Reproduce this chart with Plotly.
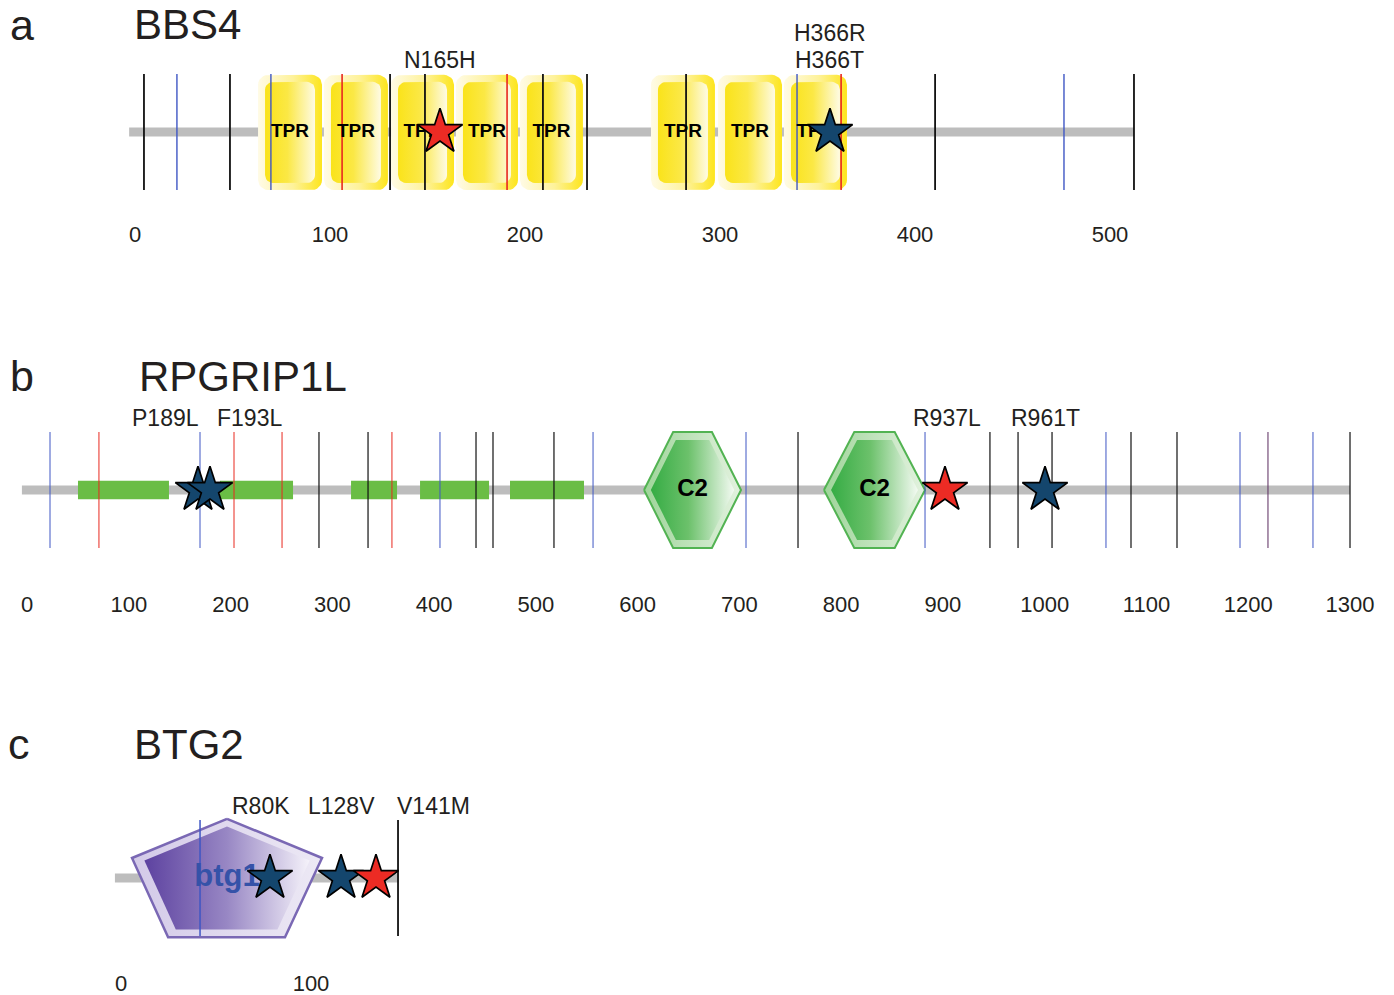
import numpy as np
import plotly.graph_objects as go

W, H = 1394, 995
INK = "#231f20"
FONT = "Liberation Sans, Arial, sans-serif"
STAR_FILL = {"red": "#ec2b24", "blue": "#14466d"}
CUT_COLOR = {"black": "#111111", "blue": "#3f56c4", "red": "#e8281f", "purple": "#5a2a5e"}

# ---------------- BBS4 ----------------
bbs4_span = [-3, 512.3]
bbs4_tpr_start = [63.1, 96.9, 131.3, 164.6, 197.4, 264.6, 299.0, 332.8]
bbs4_tpr_end = [95.9, 129.7, 163.6, 196.4, 229.7, 297.4, 331.8, 365.1]
bbs4_cut_black = [4.6, 48.7, 130.8, 148.7, 209.2, 231.8, 282.6, 410.3, 512.3]
bbs4_cut_blue = [21.5, 69.7, 339.5, 476.4]
bbs4_cut_red = [106.2, 190.8, 362.1]
bbs4_var_pos = [156.4, 356.4]
bbs4_var_class = ["red", "blue"]
bbs4_var_name = ["N165H", "H366R<br>H366T"]
bbs4_ticks = [0, 100, 200, 300, 400, 500]

# ---------------- RPGRIP1L ----------------
rpg_span = [-5, 1300]
rpg_coil_start = [50.1, 189.6, 318.4, 386.2, 474.6]
rpg_coil_end = [139.5, 261.4, 363.6, 454.0, 547.3]
rpg_c2_start = [606.3, 783.1]
rpg_c2_end = [701.6, 882.4]
rpg_cut_black = [286.9, 335.1, 441.2, 457.9, 517.8, 757.6, 946.2, 973.8, 1007.2, 1084.8, 1130.0, 1300.0]
rpg_cut_blue = [22.6, 170.0, 405.8, 556.2, 706.5, 882.4, 1060.2, 1191.9, 1263.6]
rpg_cut_red = [70.7, 203.4, 250.6, 358.6]
rpg_cut_purple = [1219.4]
rpg_var_pos = [168.0, 179.8, 902.0, 1000.3]
rpg_var_class = ["blue", "blue", "red", "blue"]
rpg_var_name = ["P189L", "F193L", "R937L", "R961T"]
rpg_ticks = [0, 100, 200, 300, 400, 500, 600, 700, 800, 900, 1000, 1100, 1200, 1300]

# ---------------- BTG2 ----------------
btg_span = [-3.2, 145.8]
btg_dom_start = [5.8]
btg_dom_end = [105.8]
btg_cut_black = [145.8]
btg_cut_blue = [41.6]
btg_var_pos = [78.4, 115.8, 134.2]
btg_var_class = ["blue", "blue", "red"]
btg_var_name = ["R80K", "L128V", "V141M"]
btg_ticks = [0, 100]

# ---------------- panel geometry (pixels) ----------------
KY = 58.0  # pixels per track unit
PANELS = [
    # axis suffix, x px of residue 0, px per residue, top px, bottom px, track centre px
    dict(ax="", px0=135, kx=1.95, top=0, bottom=219, mid=132),
    dict(ax="2", px0=27, kx=1.0177, top=300, bottom=589, mid=490),
    dict(ax="3", px0=121, kx=1.90, top=680, bottom=968, mid=878),
]

fig = go.Figure()


def xy(p):
    return dict(xaxis="x" + p["ax"], yaxis="y" + p["ax"])


def backbone(p, span):
    fig.add_trace(go.Scatter(x=span, y=[0, 0], mode="lines", line=dict(color="#bdbdbd", width=9),
                             hoverinfo="skip", showlegend=False, **xy(p)))


def cuts(p, xs, color, width):
    xx, yy = [], []
    for x in xs:
        xx += [x, x, None]
        yy += [-1.0, 1.0, None]
    fig.add_trace(go.Scatter(x=xx, y=yy, mode="lines", line=dict(color=CUT_COLOR[color], width=width),
                             hoverinfo="skip", showlegend=False, **xy(p)))


def polygon(p, xs, ys, scale, line_color, line_width):
    fig.add_trace(go.Scatter(x=xs, y=ys, mode="lines", fill="toself",
                             fillgradient=dict(type="horizontal", colorscale=scale),
                             line=dict(color=line_color, width=line_width),
                             hoverinfo="skip", showlegend=False, **xy(p)))


def rounded_box(x0, x1, y0, y1, rx, ry, n=7):
    xs, ys = [], []
    for cx, cy, a0, a1 in [(x1 - rx, y1 - ry, 0, 90), (x0 + rx, y1 - ry, 90, 180),
                           (x0 + rx, y0 + ry, 180, 270), (x1 - rx, y0 + ry, 270, 360)]:
        t = np.radians(np.linspace(a0, a1, n))
        xs += list(cx + rx * np.cos(t))
        ys += list(cy + ry * np.sin(t))
    return xs + [xs[0]], ys + [ys[0]]


def shrink(xs, ys, f):
    cx = (min(xs) + max(xs)) / 2
    cy = (min(ys) + max(ys)) / 2
    return [cx + f * (x - cx) for x in xs], [cy + f * (y - cy) for y in ys]


def domain_text(p, xs, texts, size, color, family):
    fig.add_trace(go.Scatter(x=xs, y=[0] * len(xs), mode="text", text=texts,
                             textposition="middle center",
                             textfont=dict(size=size, color=color, family=family, weight="bold"),
                             hoverinfo="skip", showlegend=False, **xy(p)))


def stars(p, xs, classes):
    fig.add_trace(go.Scatter(x=xs, y=[0] * len(xs), mode="markers",
                             marker=dict(symbol="star", size=34,
                                         color=[STAR_FILL[c] for c in classes],
                                         line=dict(color="#000000", width=1.7)),
                             hoverinfo="skip", showlegend=False, **xy(p)))


def variant_labels(p, xs, names, shifts):
    for x, name, dx in zip(xs, names, shifts):
        # stacked names sit 27 px apart, the last one just above the cut lines
        lines = name.split("<br>")
        for i, line in enumerate(reversed(lines)):
            fig.add_annotation(x=x, y=1.0, xref="x" + p["ax"], yref="y" + p["ax"], text=line,
                               showarrow=False, xanchor="center", yanchor="bottom",
                               xshift=dx, yshift=-1 + 27 * i,
                               font=dict(size=23, color=INK, family=FONT))


pa, pb, pc = PANELS

# ---- panel a: BBS4 ----
backbone(pa, bbs4_span)
rx_o, ry_o = 10 / pa["kx"], 10 / KY
inset_x, inset_y = 7 / pa["kx"], 7 / KY
for s, e in zip(bbs4_tpr_start, bbs4_tpr_end):
    ox, oy = rounded_box(s, e, -1.0, 0.985, rx_o, ry_o)
    polygon(pa, ox, oy, [[0, "#fffbe6"], [0.55, "#fef29a"], [1, "#fde51c"]], "rgba(0,0,0,0)", 0)
    ix, iy = rounded_box(s + inset_x, e - inset_x, -1.0 + inset_y, 0.985 - inset_y, rx_o * 0.8, ry_o * 0.8)
    polygon(pa, ix, iy, [[0, "#fae31a"], [0.45, "#fbe845"], [1, "#fefbe4"]], "rgba(0,0,0,0)", 0)
cuts(pa, bbs4_cut_black, "black", 1.8)
cuts(pa, bbs4_cut_blue, "blue", 1.4)
cuts(pa, bbs4_cut_red, "red", 1.6)
domain_text(pa, [(s + e) / 2 for s, e in zip(bbs4_tpr_start, bbs4_tpr_end)],
            ["TPR"] * len(bbs4_tpr_start), 19, "#000000", FONT)
stars(pa, bbs4_var_pos, bbs4_var_class)
variant_labels(pa, bbs4_var_pos, bbs4_var_name, [0, 0])

# ---- panel b: RPGRIP1L ----
backbone(pb, rpg_span)
for s, e in zip(rpg_coil_start, rpg_coil_end):
    fig.add_trace(go.Scatter(x=[s, e, e, s, s], y=[-0.16, -0.16, 0.16, 0.16, -0.16], mode="lines",
                             fill="toself", fillcolor="#6abd45", line=dict(width=0),
                             hoverinfo="skip", showlegend=False, **xy(pb)))
for s, e in zip(rpg_c2_start, rpg_c2_end):
    k = 0.3 * (e - s)
    hx = [s, s + k, e - k, e, e - k, s + k, s]
    hy = [0, 1.0, 1.0, 0, -1.0, -1.0, 0]
    polygon(pb, hx, hy, [[0, "#9fd59a"], [1, "#e3f2df"]], "#52b352", 2)
    ix, iy = shrink(hx, hy, 0.86)
    polygon(pb, ix, iy, [[0, "#35ac44"], [0.45, "#6cc16b"], [1, "#f3faf2"]], "rgba(0,0,0,0)", 0)
cuts(pb, rpg_cut_black, "black", 1.2)
cuts(pb, rpg_cut_blue, "blue", 1.0)
cuts(pb, rpg_cut_red, "red", 1.0)
cuts(pb, rpg_cut_purple, "purple", 1.0)
domain_text(pb, [(s + e) / 2 for s, e in zip(rpg_c2_start, rpg_c2_end)], ["C2", "C2"], 24, "#000000", FONT)
stars(pb, rpg_var_pos, rpg_var_class)
variant_labels(pb, rpg_var_pos, rpg_var_name, [-32, 40, 2, 0])

# ---- panel c: BTG2 ----
backbone(pc, btg_span)
for s, e in zip(btg_dom_start, btg_dom_end):
    w = e - s
    px_ = [s + 0.5 * w, s, s + 0.19 * w, s + 0.805 * w, e, s + 0.5 * w]
    py_ = [1.02, 0.345, -1.02, -1.02, 0.345, 1.02]
    polygon(pc, px_, py_, [[0, "#d3cae8"], [1, "#ede9f5"]], "#7a68b4", 2.5)
    ix, iy = shrink(px_, py_, 0.87)
    polygon(pc, ix, iy, [[0, "#5d42a0"], [0.5, "#9887c4"], [1, "#f5f2fa"]], "rgba(0,0,0,0)", 0)
cuts(pc, btg_cut_blue, "blue", 1.5)
cuts(pc, btg_cut_black, "black", 1.8)
domain_text(pc, [(s + e) / 2 for s, e in zip(btg_dom_start, btg_dom_end)], ["btg1"], 31, "#3552a8", FONT)
stars(pc, btg_var_pos, btg_var_class)
variant_labels(pc, btg_var_pos, btg_var_name, [-9, 0, 58])

# ---- axes ----
ticks = [bbs4_ticks, rpg_ticks, btg_ticks]
for p, tv in zip(PANELS, ticks):
    fig.update_layout(**{
        "xaxis" + p["ax"]: dict(domain=[0, 1], range=[-p["px0"] / p["kx"], (W - p["px0"]) / p["kx"]],
                                anchor="y" + p["ax"], tickvals=tv, ticktext=[str(t) for t in tv],
                                showgrid=False, zeroline=False, showline=False, ticks="",
                                tickfont=dict(size=22, color=INK, family=FONT), fixedrange=True),
        "yaxis" + p["ax"]: dict(domain=[1 - p["bottom"] / H, 1 - p["top"] / H],
                                range=[(p["mid"] - p["bottom"]) / KY, (p["mid"] - p["top"]) / KY],
                                anchor="x" + p["ax"], visible=False, fixedrange=True),
    })

# ---- panel letters and protein names ----
for letter, name, lx, nx, ymid in [("a", "BBS4", 22, 132, 25), ("b", "RPGRIP1L", 22, 137, 376),
                                    ("c", "BTG2", 19, 132, 744)]:
    fig.add_annotation(x=lx / W, y=1 - ymid / H, xref="paper", yref="paper", text=letter, showarrow=False,
                       xanchor="center", yanchor="middle", font=dict(size=43, color=INK, family=FONT))
    fig.add_annotation(x=nx / W, y=1 - ymid / H, xref="paper", yref="paper", text=name, showarrow=False,
                       xanchor="left", yanchor="middle", font=dict(size=42, color=INK, family=FONT))

fig.update_layout(width=W, height=H, margin=dict(l=0, r=0, t=0, b=0),
                  paper_bgcolor="white", plot_bgcolor="white", showlegend=False)

fig.write_html("out.html", config={"displayModeBar": False})
